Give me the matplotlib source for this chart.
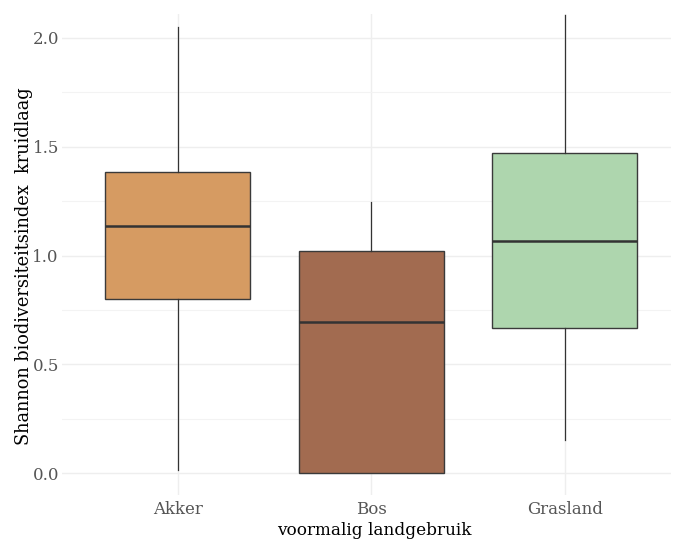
import numpy as np
import matplotlib
matplotlib.use('Agg')
import matplotlib.pyplot as plt
from matplotlib.ticker import MultipleLocator

# data
categories = ['Akker', 'Bos', 'Grasland']
whislo = [0.015, 0.0, 0.152]
q1 = [0.800, 0.0, 0.668]
med = [1.134, 0.697, 1.067]
q3 = [1.384, 1.021, 1.471]
whishi = [2.051, 1.246, 2.106]
colors = ['#d69b62', '#a26b50', '#aed6ae']

plt.rcParams['font.family'] = ['DejaVu Serif']

fig = plt.figure(figsize=(6.75, 5.4), dpi=100)
ax = fig.add_axes([0.0914, 0.0833, 0.9026, 0.8907])

stats = []
for i, c in enumerate(categories):
    stats.append({'label': c, 'whislo': whislo[i], 'q1': q1[i], 'med': med[i],
                  'q3': q3[i], 'whishi': whishi[i], 'fliers': []})

bp = ax.bxp(stats, positions=[1, 2, 3], widths=0.75, patch_artist=True,
            showcaps=False, showfliers=False,
            boxprops=dict(edgecolor='#3a3a3a', linewidth=1.0),
            whiskerprops=dict(color='#333333', linewidth=0.9),
            medianprops=dict(color='#333333', linewidth=1.8))
for patch, col in zip(bp['boxes'], colors):
    patch.set_facecolor(col)
    patch.set_zorder(3)
for ln in bp['whiskers'] + bp['medians']:
    ln.set_zorder(4)

ax.set_xlim(0.4, 3.55)
ax.set_ylim(-0.1, 2.11)
ax.yaxis.set_major_locator(MultipleLocator(0.5))
ax.yaxis.set_minor_locator(MultipleLocator(0.25))
ax.yaxis.set_major_formatter(matplotlib.ticker.FormatStrFormatter('%.1f'))

ax.grid(True, which='major', color='#eeeeee', linewidth=1.0, zorder=0)
ax.grid(True, which='minor', axis='y', color='#f3f3f3', linewidth=0.8, zorder=0)
ax.set_axisbelow(True)
for s in ax.spines.values():
    s.set_visible(False)
ax.tick_params(which='both', length=0, labelsize=12, labelcolor='#555555')
ax.tick_params(axis='y', pad=2)
ax.tick_params(axis='x', pad=4)

ax.set_xlabel('voormalig landgebruik', fontsize=12.2, color='black', labelpad=3)
ax.set_ylabel('Shannon biodiversiteitsindex  kruidlaag', fontsize=12.8,
              color='black', labelpad=-0.5)
ax.xaxis.label.set_x(0.513)
ax.yaxis.label.set_y(0.476)

fig.savefig('out.png', dpi=100)
